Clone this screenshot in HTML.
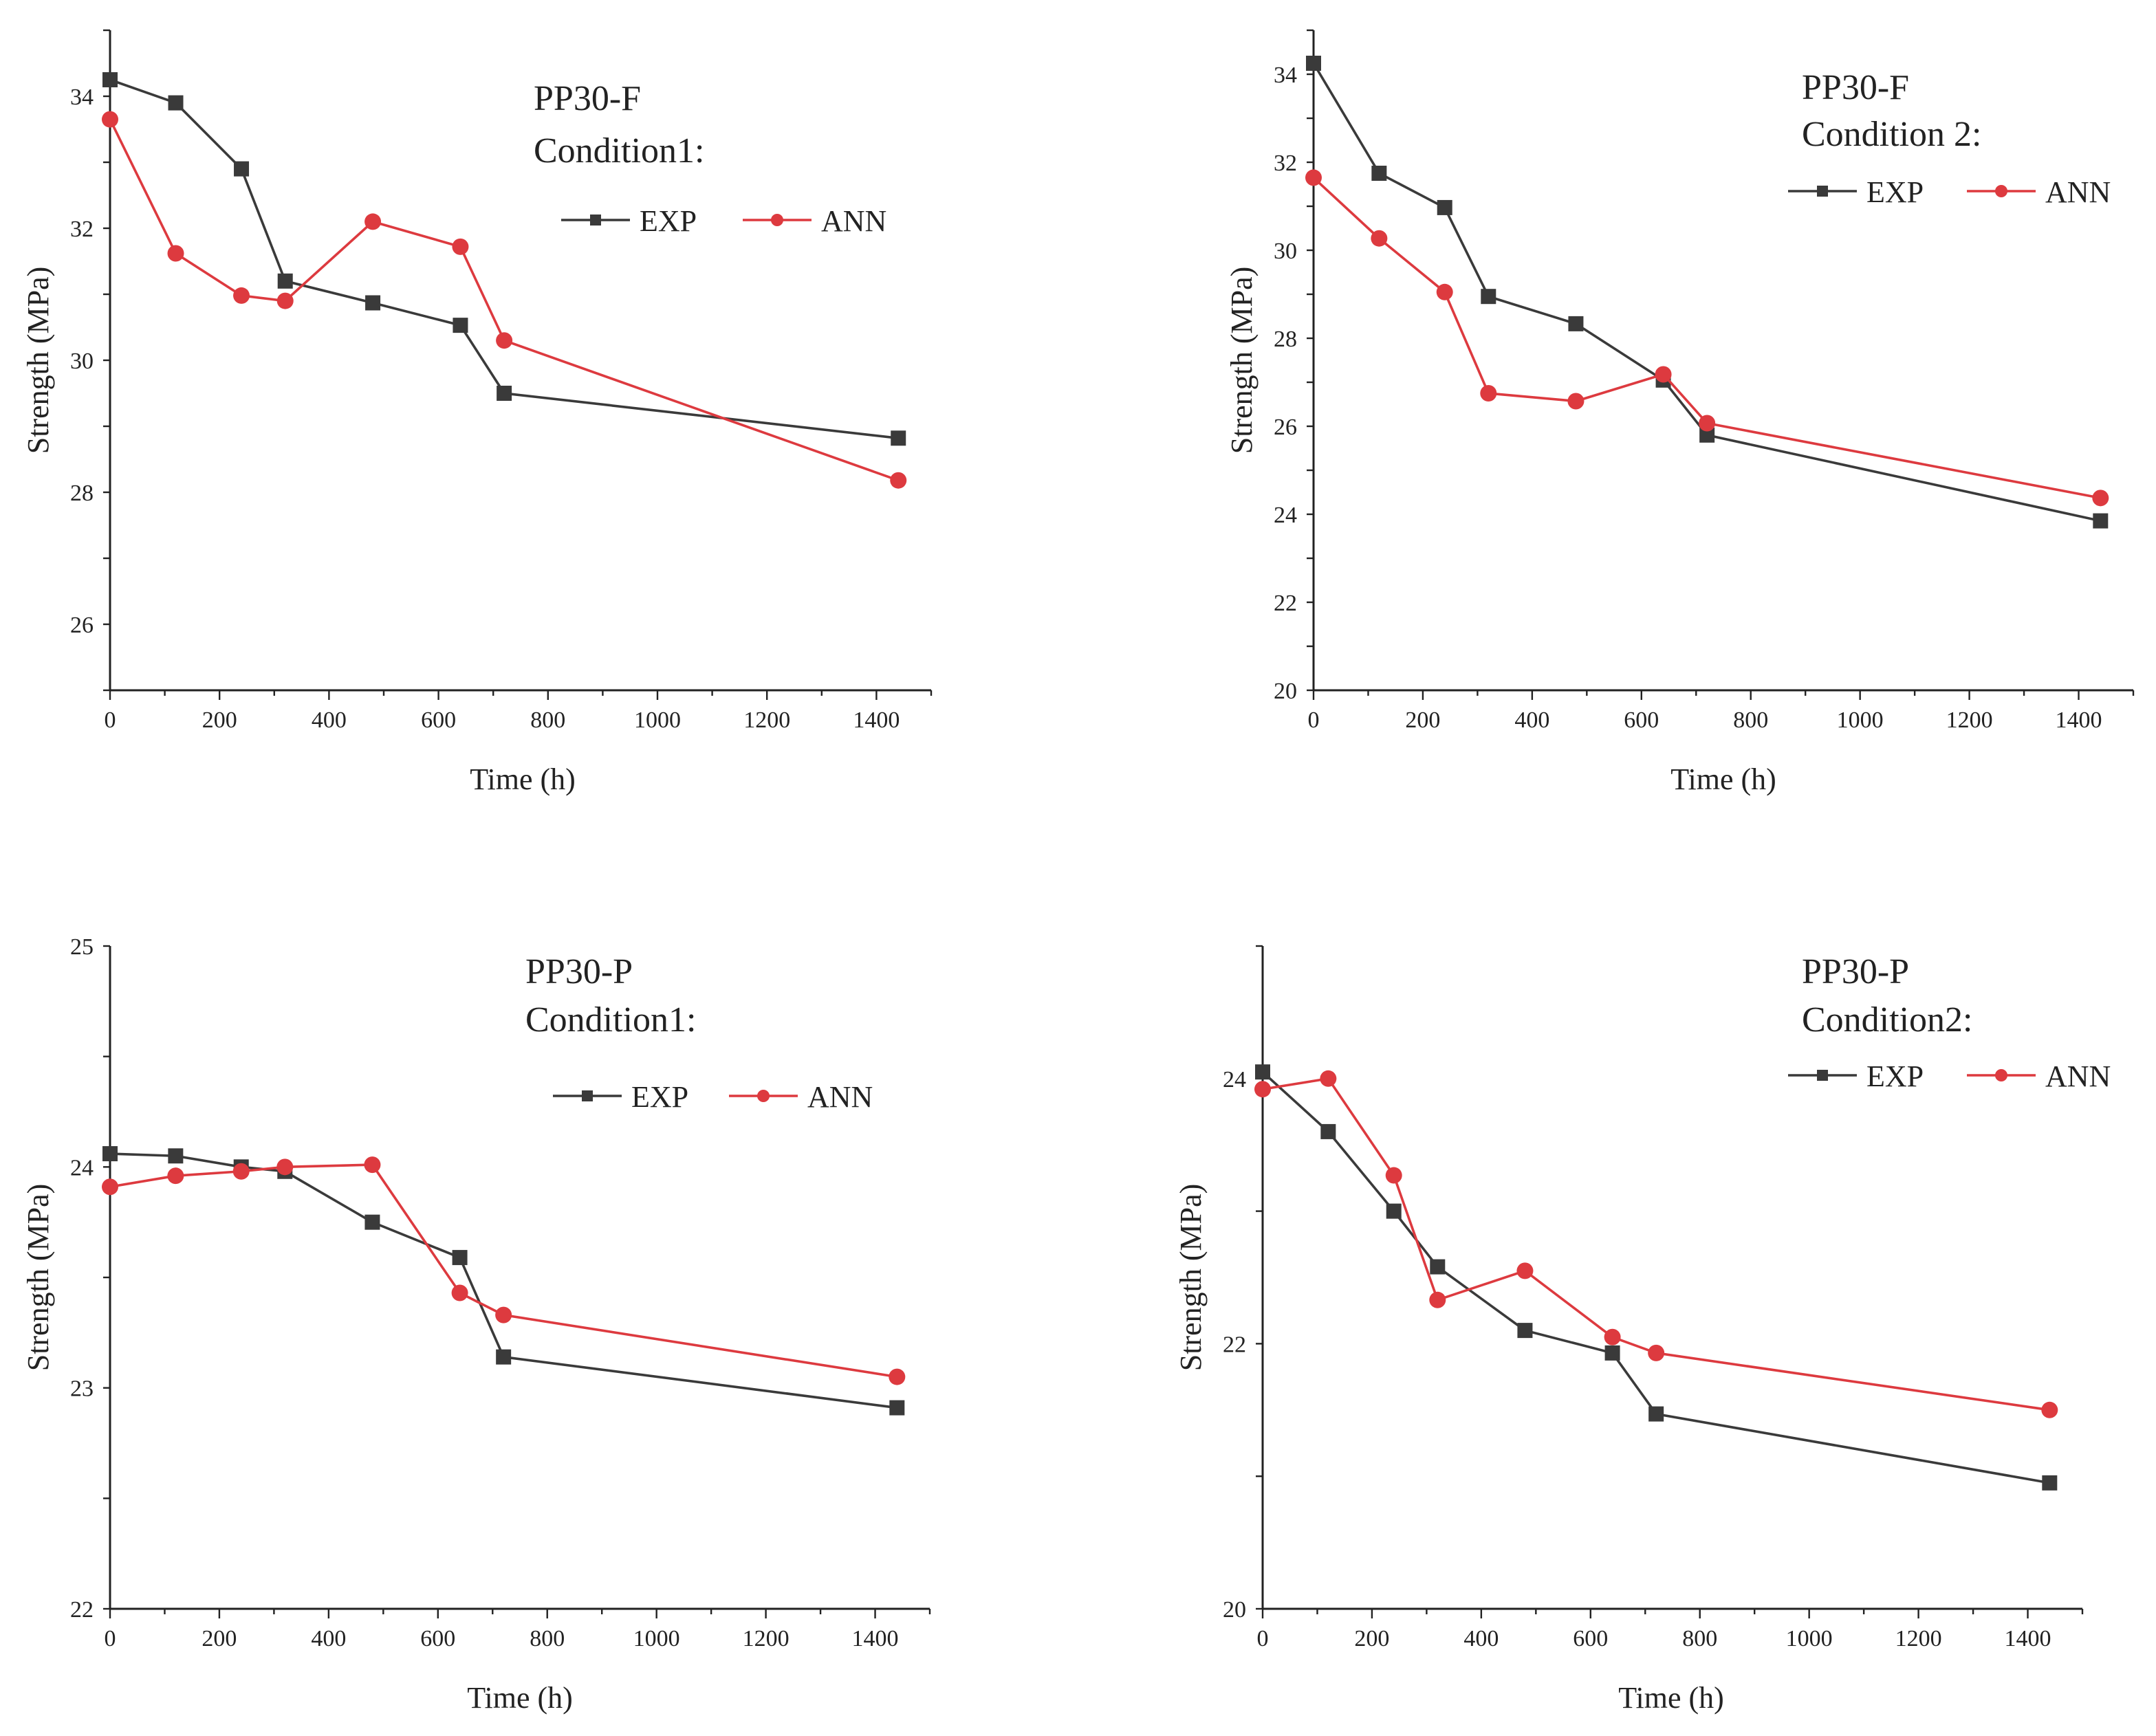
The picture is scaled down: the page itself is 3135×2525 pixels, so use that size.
<!DOCTYPE html>
<html><head><meta charset="utf-8"><style>html,body{margin:0;padding:0;background:#fff}svg{display:block}text{font-family:"Liberation Serif",serif;fill:#222}</style></head>
<body>
<svg id="fig" width="3135" height="2525" viewBox="0 0 1567.5 1262.5" xmlns="http://www.w3.org/2000/svg"></svg>
<script>
const times=[0,120,240,320,480,640,720,1440];
const xTicks=[0,200,400,600,800,1000,1200,1400];
const expA=[34.25,33.9,32.9,31.2,30.87,30.53,29.5,28.82];
const annA=[33.65,31.62,30.98,30.9,32.1,31.72,30.3,28.18];
const expB=[34.25,31.75,30.97,28.95,28.33,27.05,25.8,23.85];
const annB=[31.65,30.27,29.05,26.75,26.57,27.18,26.07,24.37];
const expC=[24.06,24.05,24.0,23.98,23.75,23.59,23.14,22.91];
const annC=[23.91,23.96,23.98,24.0,24.01,23.43,23.33,23.05];
const expD=[24.05,23.6,23.0,22.58,22.1,21.93,21.47,20.95];
const annD=[23.92,24.0,23.27,22.33,22.55,22.05,21.93,21.5];
const yTicksA=[26,28,30,32,34];
const yTicksB=[20,22,24,26,28,30,32,34];
const yTicksC=[22,23,24,25];
const yTicksD=[20,22,24];
const NS="http://www.w3.org/2000/svg";
const svg=document.getElementById('fig');
function mk(tag,attrs,parent,txt){const e=document.createElementNS(NS,tag);for(const k in attrs)e.setAttribute(k,attrs[k]);if(txt!==undefined)e.textContent=txt;(parent||svg).appendChild(e);return e;}
const panels=[
 {name:'pp30-f-cond1',x0:80,x1:677,yTop:22,yBot:502,ymin:25,ymax:35,minorStep:1,yt:yTicksA,exp:expA,ann:annA,t1:'PP30-F',t2:'Condition1:',tx:388,ty1:80,ty2:118,ly:160,lx:408,ax:540,xl:380},
 {name:'pp30-f-cond2',x0:955,x1:1551,yTop:22,yBot:502,ymin:20,ymax:35,minorStep:1,yt:yTicksB,exp:expB,ann:annB,t1:'PP30-F',t2:'Condition 2:',tx:1310,ty1:72,ty2:106,ly:139,lx:1300,ax:1430,xl:1253},
 {name:'pp30-p-cond1',x0:80,x1:676,yTop:688,yBot:1170,ymin:22,ymax:25,minorStep:0.5,yt:yTicksC,exp:expC,ann:annC,t1:'PP30-P',t2:'Condition1:',tx:382,ty1:715,ty2:750,ly:797,lx:402,ax:530,xl:378},
 {name:'pp30-p-cond2',x0:918,x1:1514,yTop:688,yBot:1170,ymin:20,ymax:25,minorStep:1,yt:yTicksD,exp:expD,ann:annD,t1:'PP30-P',t2:'Condition2:',tx:1310,ty1:715,ty2:750,ly:782,lx:1300,ax:1430,xl:1215}
];
panels.forEach(p=>{
 const g=mk('g',{});
 
 
 const sx=v=>p.x0+(v/1500)*(p.x1-p.x0);
 const sy=v=>p.yBot-(v-p.ymin)/(p.ymax-p.ymin)*(p.yBot-p.yTop);
 const ya=mk('line',{x1:p.x0,y1:p.yTop,x2:p.x0,y2:p.yBot,stroke:'#222','stroke-width':1.5},g);
 
 const xa=mk('line',{x1:p.x0,y1:p.yBot,x2:p.x1,y2:p.yBot,stroke:'#222','stroke-width':1.5},g);
 
 for(let v=0;v<=1500;v+=100){const big=v%200===0;mk('line',{x1:sx(v),y1:p.yBot,x2:sx(v),y2:p.yBot+(big?7:4),stroke:'#222','stroke-width':1.2},g);}
 xTicks.forEach(v=>{const t=mk('text',{x:sx(v),y:p.yBot+27,'font-size':17,'text-anchor':'middle'},g,String(v));});
 for(let v=p.ymin;v<=p.ymax+1e-9;v+=p.minorStep){mk('line',{x1:p.x0,y1:sy(v),x2:p.x0-5,y2:sy(v),stroke:'#222','stroke-width':1.2},g);}
 p.yt.forEach(v=>{const t=mk('text',{x:p.x0-12,y:sy(v)+6,'font-size':17,'text-anchor':'end'},g,String(v));});
 const xt=mk('text',{x:p.xl,y:p.yBot+72,'font-size':22,'text-anchor':'middle'},g,'Time (h)');
 
 const cy=(p.yTop+p.yBot)/2;
 const yt=mk('text',{x:p.x0-45,y:cy,'font-size':22,'text-anchor':'middle',transform:`rotate(-90 ${p.x0-45} ${cy})`},g,'Strength (MPa)');
 
 const t1=mk('text',{x:p.tx,y:p.ty1,'font-size':26},g,p.t1);
 const t2=mk('text',{x:p.tx,y:p.ty2,'font-size':26},g,p.t2);
 const series=[{d:p.exp,c:'#3a3a3a',sq:true,n:'EXP',lx:p.lx},{d:p.ann,c:'#dd3a3f',sq:false,n:'ANN',lx:p.ax}];
 series.forEach(s=>{
  const pts=s.d.map((v,i)=>sx(times[i])+','+sy(v)).join(' ');
  const pl=mk('polyline',{points:pts,fill:'none',stroke:s.c,'stroke-width':1.8},g);
  
  s.d.forEach((v,i)=>{let m;
   if(s.sq)m=mk('rect',{x:sx(times[i])-5.5,y:sy(v)-5.5,width:11,height:11,fill:s.c},g);
   else m=mk('circle',{cx:sx(times[i]),cy:sy(v),r:6,fill:s.c},g);
   });
  const lg=mk('g',{},g);
  mk('line',{x1:s.lx,y1:p.ly,x2:s.lx+50,y2:p.ly,stroke:s.c,'stroke-width':1.8},lg);
  if(s.sq)mk('rect',{x:s.lx+21,y:p.ly-4,width:8,height:8,fill:s.c},lg);else mk('circle',{cx:s.lx+25,cy:p.ly,r:4.5,fill:s.c},lg);
  mk('text',{x:s.lx+57,y:p.ly+8,'font-size':22},lg,s.n);
 });
 });
</script>
</body></html>
